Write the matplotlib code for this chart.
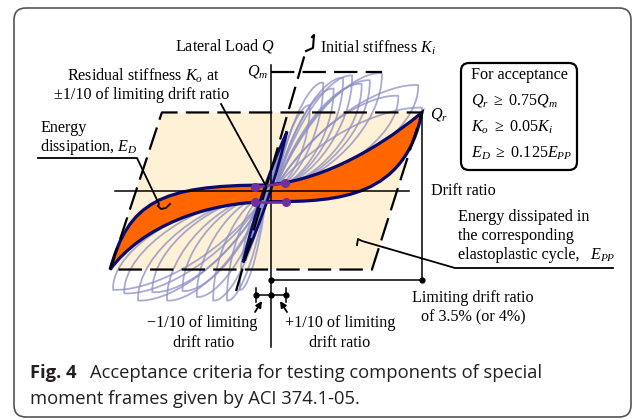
import matplotlib.pyplot as plt
from matplotlib.path import Path
from matplotlib.patches import PathPatch, Polygon, FancyBboxPatch

plt.rcParams['font.family'] = ['Liberation Serif', 'DejaVu Serif']
plt.rcParams['mathtext.fontset'] = 'custom'
plt.rcParams['mathtext.rm'] = 'Liberation Serif'
plt.rcParams['mathtext.it'] = 'Liberation Serif:italic'

# --- values: drift ratio in %, lateral load as a fraction of Qm ---
limit_drift = 3.5
q_max = 1.0
q_res = 0.66
tenth_drift = limit_drift / 10

# elastoplastic cycle (parallelogram corners)
ep_drift = [-3.73, -2.53, 3.5, 2.34]
ep_load = [-0.66, 0.66, 0.66, -0.66]

# initial stiffness line
ki_drift = [-0.81, 0.81]
ki_load = [-0.84, 1.18]

# peaks of the cyclic test loops
pos_peak_drift = [0.9, 1.21, 1.45, 1.67, 1.88, 2.1, 2.29, 2.57, 2.95, 3.41, 3.5]
pos_peak_load = [0.72, 0.91, 0.86, 0.95, 0.97, 0.9, 0.93, 0.99, 0.8, 0.89, 0.70]
neg_peak_drift = [-0.72, -1.02, -1.34, -1.72, -2.05, -2.41, -2.75, -3.08, -3.4, -3.66]
neg_peak_load = [-0.83, -0.92, -0.92, -0.89, -0.84, -0.92, -0.85, -0.92, -0.86, -0.83]

# last cycle (energy dissipation E_D), bezier control points
ed_drift = [-3.73, -3.3, -2.6, -0.1, 1.0, 2.3, 3.5, 3.1, 1.6, 0.0, -1.5, -3.0, -3.73]
ed_load = [-0.66, -0.1, 0.05, 0.05, 0.08, 0.3, 0.66, -0.05, -0.09, -0.09, -0.09, -0.3, -0.66]

# narrow loop along the initial stiffness
ko_drift = [-0.65, -0.41, -0.07, 0.37, 0.13, -0.21, -0.65]
ko_load = [-0.6, -0.22, 0.14, 0.5, 0.12, -0.24, -0.6]

# residual stiffness points at +-1/10 of limiting drift
dot_drift = [-0.37, 0.33, -0.37, 0.35]
dot_load = [0.03, 0.067, -0.092, -0.092]

qm_end = 2.57
axis_drift = [-3.62, 3.2]
axis_load = [1.06, -1.31]
limit_line_load = -0.748
tenth_line_load = -0.874

navy = '#0b0b6f'
gray = '#8c8fc4'
dash = (0, (10.5, 3.7))

W, H = 633, 419
x0, y0 = 271, 191        # origin in pixels
sx, sy = 43.14, 119.0    # pixels per % drift / per Qm

fig = plt.figure(figsize=(W / 100, H / 100), dpi=100)
ax = fig.add_axes([0, 0, 1, 1])
ax.set_xlim(-x0 / sx, (W - x0) / sx)
ax.set_ylim((y0 - H) / sy, y0 / sy)
ax.axis('off')

ax.add_patch(Polygon(list(zip(ep_drift, ep_load)), closed=True, fc='#fef1d5', ec='none', zorder=1))


def leaf(d, q, bd, bq):
    w, h = d - bd, q - bq
    verts = [(bd, bq), (bd + 0.35 * w, bq + 0.75 * h), (d - 0.2 * w, q + 0.02 * h), (d, q),
             (d + 0.015 * w, bq + 0.55 * h), (bd + 0.45 * w, bq + 0.03 * h), (bd, bq)]
    return Path(verts, [Path.MOVETO] + [Path.CURVE4] * 6)


for d, q in zip(pos_peak_drift, pos_peak_load):
    ax.add_patch(PathPatch(leaf(d, q, 0.1, 0.03), fc='none', ec=gray, lw=1.3, alpha=0.75, zorder=2))
for d, q in zip(neg_peak_drift, neg_peak_load):
    ax.add_patch(PathPatch(leaf(d, q, -0.1, -0.03), fc='none', ec=gray, lw=1.3, alpha=0.75, zorder=2))

ed_path = Path(list(zip(ed_drift, ed_load)), [Path.MOVETO] + [Path.CURVE4] * 12)
ax.add_patch(PathPatch(ed_path, fc='#ff6600', ec=navy, lw=2.3, zorder=3))
ko_path = Path(list(zip(ko_drift, ko_load)), [Path.MOVETO] + [Path.CURVE4] * 6)
ax.add_patch(PathPatch(ko_path, fc='#9092c4', ec=navy, lw=2.0, zorder=4))

# dashed envelopes
ax.plot(ep_drift + ep_drift[:1], ep_load + ep_load[:1], color='k', lw=1.6, ls=dash, zorder=5)
ax.plot(ki_drift, ki_load, color='k', lw=1.6, ls=dash, zorder=5)
ax.plot([0, qm_end], [q_max, q_max], color='k', lw=1.6, ls=dash, zorder=5)

# axes and dimension lines
ax.plot(axis_drift, [0, 0], color='k', lw=1.1, zorder=6)
ax.plot([0, 0], axis_load, color='k', lw=1.1, zorder=6)
ax.plot([limit_drift, limit_drift], [q_res, limit_line_load], color='k', lw=1.1, zorder=6)
ax.plot([0, limit_drift], [limit_line_load] * 2, color='k', lw=1.1, marker='o', ms=3.5, zorder=6)
ax.plot([-tenth_drift, 0, tenth_drift], [tenth_line_load] * 3, color='k', lw=1.1, marker='o', ms=3.5, zorder=6)
for d in (-tenth_drift, tenth_drift):
    ax.plot([d, d], [tenth_line_load - 0.055, tenth_line_load + 0.055], color='k', lw=1.1, zorder=6)

for i in (0, 2):
    ax.plot(dot_drift[i:i + 2], dot_load[i:i + 2], color='#7030a0', lw=1.8, marker='o', ms=5.5, zorder=7)

# overlay in pixel units for labels and leaders
ov = fig.add_axes([0, 0, 1, 1], facecolor='none')
ov.set_xlim(0, W)
ov.set_ylim(H, 0)
ov.axis('off')

ov.add_patch(FancyBboxPatch((14, 8), 617, 409, boxstyle='round,pad=0,rounding_size=12',
                            fc='none', ec='#555555', lw=1.2))
ov.add_patch(FancyBboxPatch((461, 63), 116, 107, boxstyle='round,pad=0,rounding_size=8',
                            fc='white', ec='k', lw=1.6))

fs = 11.6
ov.text(225, 46, 'Lateral Load $Q$', ha='center', va='center', fontsize=fs)
ov.text(320, 48, 'Initial stiffness $K_i$', ha='left', va='center', fontsize=fs)
ov.text(268, 72, '$Q_m$', ha='right', va='center', fontsize=fs)
ov.text(430, 114, '$Q_r$', ha='left', va='center', fontsize=fs)
ov.text(143, 76, 'Residual stiffness $K_o$ at', ha='center', va='center', fontsize=fs)
ov.text(142, 95, '\u00b11/10 of limiting drift ratio', ha='center', va='center', fontsize=fs)
ov.text(40, 128, 'Energy', ha='left', va='center', fontsize=fs)
ov.text(40, 147, 'dissipation, $E_D$', ha='left', va='center', fontsize=fs)
ov.text(431, 191, 'Drift ratio', ha='left', va='center', fontsize=fs)
ov.text(471, 75, 'For acceptance', ha='left', va='center', fontsize=fs)
ov.text(471, 100, r'$Q_r\ \geq\ \mathit{0.75}Q_m$', ha='left', va='center', fontsize=fs)
ov.text(471, 127, r'$K_o\ \geq\ \mathit{0.05}K_i$', ha='left', va='center', fontsize=fs)
ov.text(471, 153, r'$E_D\ \geq\ \mathit{0.125}E_{PP}$', ha='left', va='center', fontsize=fs)
ov.text(458, 217, 'Energy dissipated in', ha='left', va='center', fontsize=fs)
ov.text(458, 236, 'the corresponding', ha='left', va='center', fontsize=fs)
ov.text(458, 255, 'elastoplastic cycle,', ha='left', va='center', fontsize=fs)
ov.text(590, 255, '$E_{PP}$', ha='left', va='center', fontsize=fs)
ov.text(473, 298, 'Limiting drift ratio', ha='center', va='center', fontsize=fs)
ov.text(473, 317, 'of 3.5% (or 4%)', ha='center', va='center', fontsize=fs)
ov.text(202, 323, '\u22121/10 of limiting', ha='center', va='center', fontsize=fs)
ov.text(204, 343, 'drift ratio', ha='center', va='center', fontsize=fs)
ov.text(340, 323, '+1/10 of limiting', ha='center', va='center', fontsize=fs)
ov.text(340, 343, 'drift ratio', ha='center', va='center', fontsize=fs)

# leaders
lw_l = 1.3
ov.plot([221, 266], [104, 186], color='k', lw=lw_l)
ov.plot([38, 137, 159, 158], [158, 158, 204, 206], color='k', lw=lw_l)
ov.plot([158, 161, 166, 170], [206, 209, 208, 204], color='k', lw=lw_l)
ov.plot([613, 455, 362, 358, 357], [268, 268, 241, 239, 245], color='k', lw=lw_l)
ov.plot([306, 313, 314, 312], [51, 48, 35, 37], color='k', lw=1.5)
arrow = dict(arrowstyle='-|>', lw=1.3, color='k', mutation_scale=9, shrinkA=0, shrinkB=0)
ov.annotate('', xy=(262, 301), xytext=(255, 312), arrowprops=arrow)
ov.annotate('', xy=(280, 301), xytext=(287, 312), arrowprops=arrow)

# caption
cap = dict(fontfamily='Open Sans', fontsize=13.2, color='#231f20', va='center')
ov.text(30, 373, 'Fig. 4', fontweight='bold', **cap)
ov.text(90, 373, 'Acceptance criteria for testing components of special', **cap)
ov.text(30, 399, 'moment frames given by ACI 374.1-05.', **cap)

fig.savefig('out.png', dpi=100)
